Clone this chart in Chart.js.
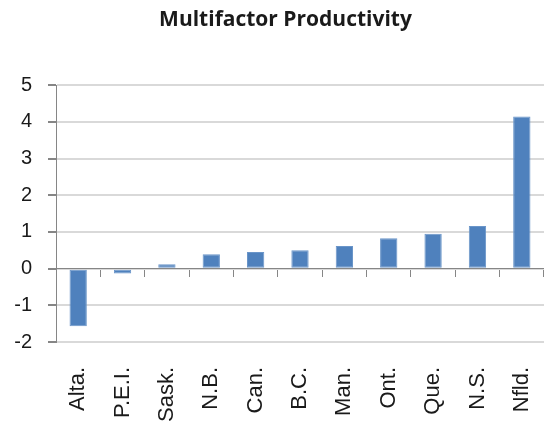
<!DOCTYPE html>
<html>
<head>
<meta charset="utf-8">
<script src="https://cdn.jsdelivr.net/npm/chart.js@4"></script>
<style>
    html, body { margin: 0; padding: 0; background: #ffffff; }
    #wrap { width: 544px; height: 421px; }
</style>
</head>
<body>
<div id="wrap"><canvas id="mfpChart" width="544" height="421"></canvas></div>
<script>
// Provinces, sorted by value
const provinces = ['Alta.', 'P.E.I.', 'Sask.', 'N.B.', 'Can.', 'B.C.', 'Man.', 'Ont.', 'Que.', 'N.S.', 'Nfld.'];
// Multifactor productivity values
const mfpValues = [-1.57, -0.13, 0.12, 0.39, 0.45, 0.50, 0.62, 0.83, 0.95, 1.16, 4.15];
// Y axis range
const yMin = -2;
const yMax = 5;

document.addEventListener('DOMContentLoaded', function() {
    const ctx = document.getElementById('mfpChart');

    // Excel centres the title a bit right of the canvas middle
    const shiftTitle = {
        id: 'shiftTitle',
        afterLayout: function(chart) {
            if (chart.titleBlock) {
                chart.titleBlock.left = 27;
            }
        }
    };

    new Chart(ctx, {
        type: 'bar',
        data: {
            labels: provinces,
            datasets: [{
                label: 'Multifactor Productivity',
                data: mfpValues,
                backgroundColor: '#4F81BD',
                borderColor: '#6A95C9',
                borderWidth: 1,
                borderSkipped: false,
                barPercentage: 0.39,
                categoryPercentage: 1.0,
                xAxisID: 'x'
            }]
        },
        options: {
            responsive: false,
            animation: false,
            layout: { padding: 0 },
            plugins: {
                legend: { display: false },
                tooltip: { enabled: false },
                title: {
                    display: true,
                    text: 'Multifactor Productivity',
                    color: '#1a1a1a',
                    font: { family: 'Open Sans', size: 21, weight: 'bold' },
                    padding: { top: 7, bottom: 53 }
                }
            },
            scales: {
                // axis line drawn at zero, with tick marks between categories
                x: {
                    type: 'category',
                    position: { y: 0 },
                    offset: true,
                    grid: {
                        offset: true,
                        drawOnChartArea: false,
                        drawTicks: true,
                        tickLength: 8,
                        tickColor: '#868686'
                    },
                    border: { display: true, color: '#868686', width: 1 },
                    ticks: { display: false }
                },
                // labels at the bottom
                x2: {
                    type: 'category',
                    labels: provinces,
                    position: 'bottom',
                    offset: true,
                    grid: { display: false, drawTicks: true, tickLength: 25 },
                    border: { display: false },
                    ticks: {
                        minRotation: 90,
                        maxRotation: 90,
                        autoSkip: false,
                        padding: 0,
                        color: '#1a1a1a',
                        font: { family: 'Liberation Sans', size: 22, lineHeight: 1.0 }
                    },
                    afterFit: function(scale) { scale.height = 79; }
                },
                y: {
                    min: yMin,
                    max: yMax,
                    ticks: {
                        stepSize: 1,
                        padding: 16,
                        color: '#1a1a1a',
                        font: { family: 'Liberation Sans', size: 20 }
                    },
                    grid: {
                        color: '#d9d9d9',
                        lineWidth: 2,
                        tickLength: 8,
                        tickColor: '#868686'
                    },
                    border: { display: true, color: '#868686', width: 1 },
                    afterFit: function(scale) { scale.width = 56; }
                }
            }
        },
        plugins: [shiftTitle]
    });
});
</script>
</body>
</html>
